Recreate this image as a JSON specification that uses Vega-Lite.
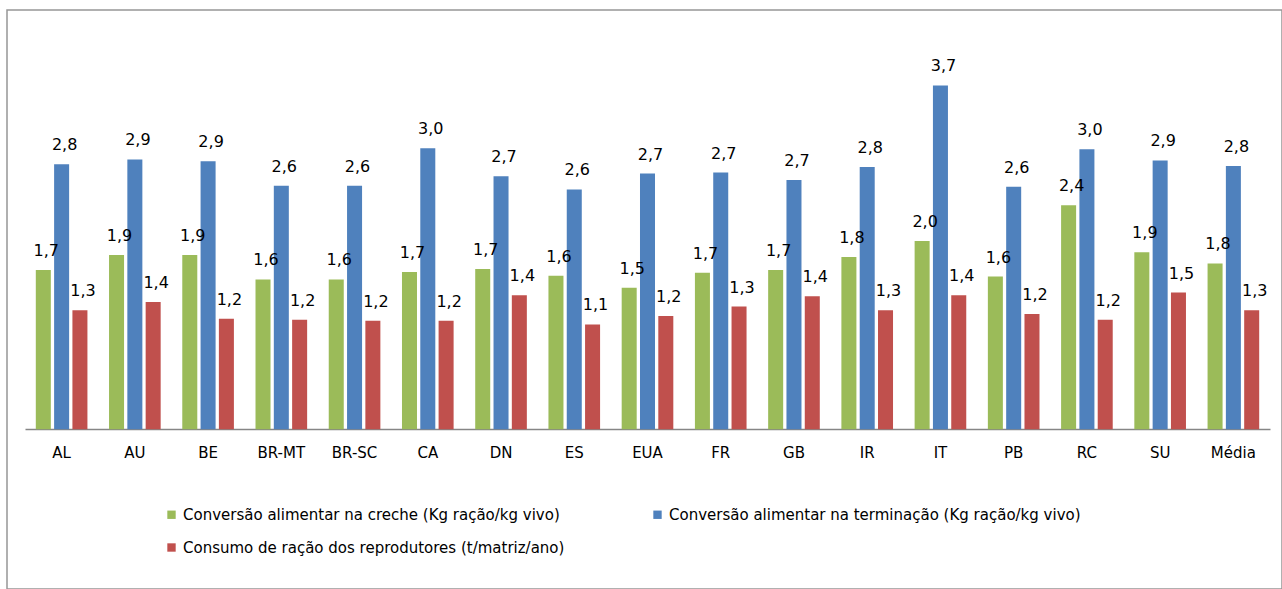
{
  "$schema": "https://vega.github.io/schema/vega-lite/v6.json",
  "width": 1275,
  "height": 579,
  "autosize": {"type": "none"},
  "padding": {"left": 7, "top": 10, "right": 0, "bottom": 0},
  "background": "white",
  "config": {
    "locale": {"number": {"decimal": ",", "thousands": ".", "grouping": [3], "currency": ["", ""]}},
    "view": {"stroke": "#979797", "strokeWidth": 1.5},
    "font": "DejaVu Sans"
  },
  "data": {
    "values": [
      {"pais": "AL", "serie": "Conversão alimentar na creche (Kg ração/kg vivo)", "valor": 1.70},
      {"pais": "AL", "serie": "Conversão alimentar na terminação (Kg ração/kg vivo)", "valor": 2.83},
      {"pais": "AL", "serie": "Consumo de ração dos reprodutores (t/matriz/ano)", "valor": 1.27},
      {"pais": "AU", "serie": "Conversão alimentar na creche (Kg ração/kg vivo)", "valor": 1.86},
      {"pais": "AU", "serie": "Conversão alimentar na terminação (Kg ração/kg vivo)", "valor": 2.88},
      {"pais": "AU", "serie": "Consumo de ração dos reprodutores (t/matriz/ano)", "valor": 1.36},
      {"pais": "BE", "serie": "Conversão alimentar na creche (Kg ração/kg vivo)", "valor": 1.86},
      {"pais": "BE", "serie": "Conversão alimentar na terminação (Kg ração/kg vivo)", "valor": 2.86},
      {"pais": "BE", "serie": "Consumo de ração dos reprodutores (t/matriz/ano)", "valor": 1.18},
      {"pais": "BR-MT", "serie": "Conversão alimentar na creche (Kg ração/kg vivo)", "valor": 1.60},
      {"pais": "BR-MT", "serie": "Conversão alimentar na terminação (Kg ração/kg vivo)", "valor": 2.60},
      {"pais": "BR-MT", "serie": "Consumo de ração dos reprodutores (t/matriz/ano)", "valor": 1.17},
      {"pais": "BR-SC", "serie": "Conversão alimentar na creche (Kg ração/kg vivo)", "valor": 1.60},
      {"pais": "BR-SC", "serie": "Conversão alimentar na terminação (Kg ração/kg vivo)", "valor": 2.60},
      {"pais": "BR-SC", "serie": "Consumo de ração dos reprodutores (t/matriz/ano)", "valor": 1.16},
      {"pais": "CA", "serie": "Conversão alimentar na creche (Kg ração/kg vivo)", "valor": 1.68},
      {"pais": "CA", "serie": "Conversão alimentar na terminação (Kg ração/kg vivo)", "valor": 3.00},
      {"pais": "CA", "serie": "Consumo de ração dos reprodutores (t/matriz/ano)", "valor": 1.16},
      {"pais": "DN", "serie": "Conversão alimentar na creche (Kg ração/kg vivo)", "valor": 1.71},
      {"pais": "DN", "serie": "Conversão alimentar na terminação (Kg ração/kg vivo)", "valor": 2.70},
      {"pais": "DN", "serie": "Consumo de ração dos reprodutores (t/matriz/ano)", "valor": 1.43},
      {"pais": "ES", "serie": "Conversão alimentar na creche (Kg ração/kg vivo)", "valor": 1.64},
      {"pais": "ES", "serie": "Conversão alimentar na terminação (Kg ração/kg vivo)", "valor": 2.56},
      {"pais": "ES", "serie": "Consumo de ração dos reprodutores (t/matriz/ano)", "valor": 1.12},
      {"pais": "EUA", "serie": "Conversão alimentar na creche (Kg ração/kg vivo)", "valor": 1.51},
      {"pais": "EUA", "serie": "Conversão alimentar na terminação (Kg ração/kg vivo)", "valor": 2.73},
      {"pais": "EUA", "serie": "Consumo de ração dos reprodutores (t/matriz/ano)", "valor": 1.21},
      {"pais": "FR", "serie": "Conversão alimentar na creche (Kg ração/kg vivo)", "valor": 1.67},
      {"pais": "FR", "serie": "Conversão alimentar na terminação (Kg ração/kg vivo)", "valor": 2.74},
      {"pais": "FR", "serie": "Consumo de ração dos reprodutores (t/matriz/ano)", "valor": 1.31},
      {"pais": "GB", "serie": "Conversão alimentar na creche (Kg ração/kg vivo)", "valor": 1.70},
      {"pais": "GB", "serie": "Conversão alimentar na terminação (Kg ração/kg vivo)", "valor": 2.66},
      {"pais": "GB", "serie": "Consumo de ração dos reprodutores (t/matriz/ano)", "valor": 1.42},
      {"pais": "IR", "serie": "Conversão alimentar na creche (Kg ração/kg vivo)", "valor": 1.84},
      {"pais": "IR", "serie": "Conversão alimentar na terminação (Kg ração/kg vivo)", "valor": 2.80},
      {"pais": "IR", "serie": "Consumo de ração dos reprodutores (t/matriz/ano)", "valor": 1.27},
      {"pais": "IT", "serie": "Conversão alimentar na creche (Kg ração/kg vivo)", "valor": 2.01},
      {"pais": "IT", "serie": "Conversão alimentar na terminação (Kg ração/kg vivo)", "valor": 3.67},
      {"pais": "IT", "serie": "Consumo de ração dos reprodutores (t/matriz/ano)", "valor": 1.43},
      {"pais": "PB", "serie": "Conversão alimentar na creche (Kg ração/kg vivo)", "valor": 1.63},
      {"pais": "PB", "serie": "Conversão alimentar na terminação (Kg ração/kg vivo)", "valor": 2.59},
      {"pais": "PB", "serie": "Consumo de ração dos reprodutores (t/matriz/ano)", "valor": 1.23},
      {"pais": "RC", "serie": "Conversão alimentar na creche (Kg ração/kg vivo)", "valor": 2.39},
      {"pais": "RC", "serie": "Conversão alimentar na terminação (Kg ração/kg vivo)", "valor": 2.99},
      {"pais": "RC", "serie": "Consumo de ração dos reprodutores (t/matriz/ano)", "valor": 1.17},
      {"pais": "SU", "serie": "Conversão alimentar na creche (Kg ração/kg vivo)", "valor": 1.89},
      {"pais": "SU", "serie": "Conversão alimentar na terminação (Kg ração/kg vivo)", "valor": 2.87},
      {"pais": "SU", "serie": "Consumo de ração dos reprodutores (t/matriz/ano)", "valor": 1.46},
      {"pais": "Média", "serie": "Conversão alimentar na creche (Kg ração/kg vivo)", "valor": 1.77},
      {"pais": "Média", "serie": "Conversão alimentar na terminação (Kg ração/kg vivo)", "valor": 2.81},
      {"pais": "Média", "serie": "Consumo de ração dos reprodutores (t/matriz/ano)", "valor": 1.27}
    ]
  },
  "encoding": {
    "x": {
      "field": "pais",
      "type": "nominal",
      "sort": null,
      "scale": {"range": [18, 1263], "paddingInner": 0.25, "paddingOuter": 0.125},
      "axis": {
        "title": null,
        "offset": -160,
        "domainColor": "#868686",
        "domainWidth": 1.5,
        "ticks": false,
        "tickSize": 0,
        "labelAngle": 0,
        "labelFontSize": 15,
        "labelColor": "#000000",
        "labelPadding": 16,
        "labelBaseline": "top"
      }
    },
    "xOffset": {
      "field": "serie",
      "type": "nominal",
      "scale": {
        "domain": [
          "Conversão alimentar na creche (Kg ração/kg vivo)",
          "Conversão alimentar na terminação (Kg ração/kg vivo)",
          "Consumo de ração dos reprodutores (t/matriz/ano)"
        ],
        "paddingInner": 0.18,
        "paddingOuter": 0.09
      }
    },
    "y": {
      "field": "valor",
      "type": "quantitative",
      "stack": null,
      "scale": {"domain": [-1.704, 4.475], "nice": false, "zero": false},
      "axis": null
    }
  },
  "layer": [
    {
      "mark": {"type": "bar"},
      "encoding": {
        "y2": {"datum": 0},
        "color": {
          "field": "serie",
          "type": "nominal",
          "scale": {
            "domain": [
              "Conversão alimentar na creche (Kg ração/kg vivo)",
              "Consumo de ração dos reprodutores (t/matriz/ano)",
              "Conversão alimentar na terminação (Kg ração/kg vivo)"
            ],
            "range": ["#9BBB59", "#C0504D", "#4F81BD"]
          },
          "legend": {
            "title": null,
            "orient": "none",
            "legendX": 157,
            "legendY": 497,
            "columns": 2,
            "symbolType": "square",
            "symbolSize": 70,
            "symbolStrokeWidth": 0,
            "labelFontSize": 15,
            "labelColor": "#000000",
            "labelLimit": 0,
            "labelOffset": 4,
            "columnPadding": 85,
            "rowPadding": 17,
            "padding": 0
          }
        }
      }
    },
    {
      "mark": {"type": "text", "baseline": "alphabetic", "dy": -14, "dx": 3, "fontSize": 16, "color": "#000000"},
      "encoding": {
        "text": {"field": "valor", "type": "quantitative", "format": ".1f"}
      }
    }
  ]
}
